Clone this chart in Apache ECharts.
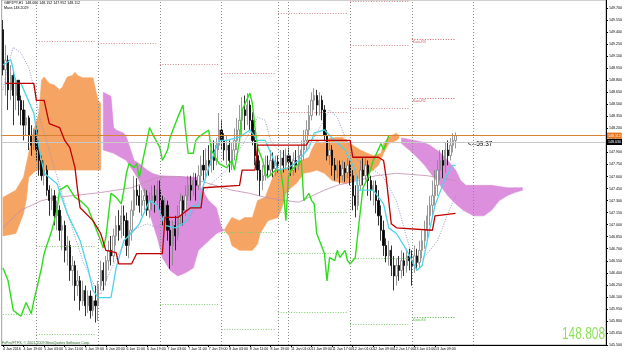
<!DOCTYPE html>
<html><head><meta charset="utf-8">
<script src="https://cdn.jsdelivr.net/npm/echarts@6/dist/echarts.min.js"></script>
<style>html,body{margin:0;padding:0;background:#fff}#c{width:625px;height:353px}</style>
</head><body><div id="c"></div>
<script>
// ---- data ----
const tickLabels = ["4 Jan 2016","4 Jan 19:00","5 Jan 03:00","5 Jan 11:00","5 Jan 19:00","6 Jan 03:00","6 Jan 11:00","6 Jan 19:00","7 Jan 03:00","7 Jan 11:00","7 Jan 19:00","8 Jan 03:00","8 Jan 11:00","8 Jan 19:00","11 Jan 01:00","11 Jan 09:00","11 Jan 17:00","12 Jan 01:00","12 Jan 09:00","12 Jan 17:00","13 Jan 01:00","13 Jan 09:00","13 Jan 17:00"];
const slotCount = 235;
// [open, close, low, high]
const candles = [
[149.43,148.93,148.86,149.55],[148.93,149.05,148.61,149.24],[149.05,148.68,148.43,149.11],[148.68,148.86,148.55,148.99],
[148.86,148.61,148.24,148.93],[148.61,148.80,148.43,148.83],[148.80,148.55,148.36,148.80],[148.55,148.43,148.24,148.61],
[148.43,148.24,148.05,148.55],[148.24,148.33,148.11,148.43],[148.33,148.11,147.93,148.36],[148.11,147.99,147.86,148.24],
[147.99,148.18,147.93,148.20],[148.18,147.93,147.80,148.24],[147.93,147.80,147.61,148.05],[147.80,147.61,147.55,147.86],
[147.61,147.68,147.49,147.80],[147.68,147.43,147.36,147.74],[147.43,147.30,147.11,147.49],[147.30,147.36,147.18,147.45],
[147.36,147.11,146.99,147.43],[147.11,147.18,146.93,147.30],[147.18,146.93,146.80,147.24],[146.93,146.99,146.68,147.11],
[146.99,146.68,146.53,147.05],[146.68,146.74,146.49,146.86],[146.74,146.43,146.30,146.80],[146.43,146.49,146.24,146.61],
[146.49,146.24,146.05,146.55],[146.24,146.30,146.11,146.43],[146.30,146.05,145.93,146.36],[146.05,146.18,145.99,146.30],
[146.18,145.99,145.86,146.24],[145.99,146.11,145.90,146.18],[146.11,145.93,145.83,146.18],[145.93,146.05,145.86,146.11],
[146.05,145.99,145.78,146.24],[145.99,146.24,145.80,146.30],[146.24,146.43,146.18,146.55],[146.43,146.30,146.18,146.53],
[146.30,146.55,146.24,146.61],[146.55,146.68,146.43,146.80],[146.68,146.61,146.49,146.86],[146.61,146.86,146.53,146.95],
[146.86,146.99,146.74,147.11],[146.99,146.93,146.80,147.18],[146.93,147.11,146.83,147.24],[147.11,147.05,146.86,147.24],
[147.05,146.74,146.61,147.15],[146.74,146.93,146.58,147.05],[146.93,147.18,146.80,147.30],[147.18,147.43,147.11,147.61],
[147.43,147.36,147.24,147.58],[147.36,147.24,147.15,147.49],[147.24,147.30,147.11,147.43],[147.30,147.36,147.18,147.45],
[147.36,147.18,147.11,147.43],[147.18,147.30,147.08,147.40],[147.30,147.36,147.18,147.49],[147.36,147.30,147.15,147.49],
[147.30,147.43,147.24,147.55],[147.43,147.30,147.18,147.55],[147.30,147.11,146.99,147.36],[147.11,147.24,146.93,147.33],
[147.24,146.93,146.80,147.30],[146.93,146.74,146.45,147.05],[146.74,146.99,146.49,147.05],[146.99,146.86,146.68,147.11],
[146.86,147.11,146.80,147.24],[147.11,147.30,146.99,147.39],[147.30,147.18,146.99,147.36],[147.18,147.36,147.11,147.49],
[147.36,147.49,147.30,147.61],[147.49,147.43,147.30,147.61],[147.43,147.55,147.36,147.65],[147.55,147.49,147.30,147.64],
[147.49,147.61,147.43,147.74],[147.61,147.74,147.49,147.86],[147.74,147.68,147.55,147.93],[147.68,147.80,147.58,147.95],
[147.80,147.74,147.61,147.99],[147.74,147.93,147.65,148.01],[147.93,147.80,147.68,148.05],[147.80,147.99,147.74,148.08],
[147.99,148.18,147.93,148.39],[148.18,148.05,147.93,148.30],[148.05,147.93,147.80,148.14],[147.93,147.99,147.74,148.11],
[147.99,147.80,147.65,148.05],[147.80,147.93,147.68,148.03],[147.93,148.05,147.80,148.20],[148.05,148.18,147.93,148.33],
[148.18,148.30,148.05,148.49],[148.30,148.43,148.11,148.59],[148.43,148.36,148.18,148.61],[148.36,148.49,148.24,148.64],
[148.49,148.30,148.18,148.55],[148.30,148.05,147.99,148.40],[148.05,147.86,147.74,148.18],[147.86,147.68,147.55,147.99],
[147.68,147.55,147.36,147.80],[147.55,147.61,147.43,147.74],[147.61,147.74,147.55,147.86],[147.74,147.68,147.58,147.86],
[147.68,147.80,147.61,147.93],[147.80,147.70,147.59,147.90],[147.70,147.78,147.61,147.86],[147.78,147.74,147.65,147.86],
[147.74,147.83,147.68,147.93],[147.83,147.74,147.65,147.93],[147.74,147.86,147.68,147.95],[147.86,147.78,147.68,147.96],
[147.78,147.68,147.61,147.86],[147.68,147.80,147.61,147.90],[147.80,147.74,147.65,147.93],[147.74,147.86,147.68,147.99],
[147.86,147.93,147.74,148.05],[147.93,148.05,147.80,148.18],[148.05,148.18,147.93,148.30],[148.18,148.36,148.11,148.49],
[148.36,148.55,148.30,148.65],[148.55,148.61,148.43,148.70],[148.61,148.49,148.36,148.68],[148.49,148.55,148.36,148.65],
[148.55,148.43,148.30,148.61],[148.43,148.11,148.05,148.49],[148.11,147.86,147.80,148.18],[147.86,147.93,147.74,148.05],
[147.93,147.74,147.61,147.99],[147.74,147.68,147.55,147.83],[147.68,147.74,147.58,147.80],[147.74,147.61,147.51,147.80],
[147.61,147.70,147.55,147.80],[147.70,147.65,147.53,147.78],[147.65,147.74,147.58,147.83],[147.74,147.61,147.49,147.80],
[147.61,147.36,147.18,147.68],[147.36,147.24,147.09,147.49],[147.24,147.49,147.18,147.61],[147.49,147.68,147.43,147.80],
[147.68,147.61,147.49,147.83],[147.61,147.74,147.55,147.84],[147.74,147.55,147.36,147.80],[147.55,147.43,147.30,147.61],
[147.43,147.49,147.24,147.55],[147.49,147.30,147.14,147.55],[147.30,147.11,146.99,147.43],[147.11,146.93,146.80,147.24],
[146.93,146.74,146.61,147.05],[146.74,146.61,146.53,146.83],[146.61,146.68,146.49,146.80],[146.68,146.49,146.36,146.74],
[146.49,146.36,146.18,146.61],[146.36,146.49,146.24,146.58],[146.49,146.43,146.30,146.61],[146.43,146.55,146.33,146.68],
[146.55,146.49,146.36,146.65],[146.49,146.61,146.40,146.70],[146.61,146.55,146.43,146.70],[146.55,146.49,146.24,146.68],
[146.49,146.61,146.40,146.74],[146.61,146.53,146.43,146.70],[146.53,146.68,146.45,146.80],[146.68,146.80,146.58,146.93],
[146.80,146.93,146.70,147.05],[146.93,147.11,146.80,147.24],[147.11,147.24,146.99,147.36],[147.24,147.36,147.11,147.55],
[147.36,147.49,147.24,147.68],[147.49,147.68,147.36,147.80],[147.68,147.80,147.55,147.93],[147.80,147.74,147.58,147.93],
[147.74,147.93,147.65,148.03],[147.93,147.86,147.74,148.05],[147.86,147.99,147.80,148.08],[147.99,148.05,147.90,148.14],
[148.05,148.11,147.95,148.15]
];
const tenkan = [[0,148.99],[2,149.03],[3,149.06],[4,148.93],[5,148.76],[7,148.76],[12,148.39],[14,147.96],[16,147.64],[21,147.51],[25,147.14],[30,146.80],[33,146.46],[35,146.18],[37,146.09],[42,146.09],[44,146.46],[47,146.80],[51,146.93],[53,147.01],[57,147.30],[60,147.24],[63,146.99],[67,146.96],[71,147.03],[74,147.24],[76,147.21],[77,147.39],[80,147.71],[84,148.05],[87,148.05],[92,148.09],[96,148.18],[99,148.05],[102,148.05],[107,147.68],[111,147.71],[115,147.80],[119,147.96],[121,148.14],[125,148.18],[129,148.05],[133,147.93],[137,147.68],[138,147.43],[144,147.43],[148,147.26],[150,146.96],[153,146.89],[157,146.68],[161,146.43],[163,146.49],[165,146.80],[168,147.24],[172,147.58],[175,147.74],[176,147.74]];
const kijun = [[1,148.76],[12,148.76],[13,148.55],[16,148.55],[18,148.26],[22,148.21],[24,148.05],[26,147.96],[28,147.71],[29,147.43],[30,147.21],[35,147.05],[38,146.89],[40,146.68],[44,146.65],[45,146.51],[50,146.51],[52,146.64],[62,146.64],[63,147.09],[68,147.09],[70,147.14],[73,147.21],[77,147.21],[78,147.46],[92,147.49],[93,147.68],[98,147.68],[99,147.99],[118,147.99],[119,148.05],[135,148.05],[136,147.84],[146,147.84],[148,147.80],[149,147.59],[151,147.01],[153,146.96],[167,146.93],[168,147.11],[176,147.14]];
const chikou = [[0,146.46],[2,146.30],[4,145.93],[7,145.86],[9,146.03],[11,145.89],[12,146.05],[15,146.46],[16,146.64],[19,146.93],[21,147.18],[22,147.43],[25,147.49],[28,147.34],[30,147.30],[33,147.21],[35,147.05],[38,146.80],[39,146.71],[40,146.84],[42,147.39],[44,147.34],[46,147.26],[47,147.43],[48,147.64],[49,147.76],[51,147.71],[52,147.76],[53,147.59],[56,148.05],[57,148.21],[58,148.14],[61,147.96],[62,147.80],[64,147.93],[65,148.09],[68,148.34],[70,148.49],[71,148.18],[72,147.89],[74,147.89],[75,148.05],[76,148.09],[80,148.18],[81,147.93],[84,147.76],[87,147.71],[89,147.80],[90,147.68],[92,148.05],[93,148.43],[96,148.64],[97,148.51],[98,148.21],[99,147.96],[101,147.80],[102,147.64],[103,147.59],[106,147.68],[108,147.68],[109,147.46],[110,147.05],[111,147.59],[112,147.68],[115,147.76],[116,147.80],[117,147.30],[119,147.39],[120,147.30],[121,147.26],[122,146.89],[125,146.64],[126,146.30],[127,146.59],[129,146.55],[130,146.68],[131,146.59],[133,146.68],[134,146.55],[135,146.51],[137,146.59],[138,146.89],[139,147.18],[140,147.46],[142,147.59],[144,147.80],[147,148.01],[148,147.93],[150,148.11]];
const dottedMA = [[0,148.68],[2,148.99],[4,149.21],[7,149.14],[10,148.96],[12,148.71],[14,148.36],[20,147.71],[26,147.05],[31,146.55],[36,146.21],[38,146.13],[40,146.30],[45,146.64],[50,146.93],[56,147.01],[60,146.96],[64,147.05],[69,147.01],[72,147.05],[76,147.30],[81,147.51],[87,147.68],[92,147.93],[97,148.21],[99,148.34],[102,148.30],[104,148.05],[107,147.93],[112,147.80],[117,147.89],[122,148.14],[127,148.43],[130,148.34],[134,148.01],[138,147.80],[143,147.71],[148,147.59],[153,147.30],[159,146.61],[161,146.49],[165,146.64],[169,146.80],[173,147.14],[176,147.36]];
const longMA = [[0,146.96],[7,147.18],[15,147.30],[21,147.34],[38,147.40],[50,147.46],[60,147.59],[69,147.60],[76,147.55],[89,147.43],[96,147.39],[102,147.34],[110,147.30],[115,147.28],[119,147.34],[125,147.43],[130,147.49],[138,147.55],[145,147.61],[153,147.64],[165,147.61],[176,147.55]];
const orange1Top = [[0,147.34],[5,147.43],[8,147.59],[10,147.89],[12,148.18],[14,148.39],[15,148.80],[16,148.84],[18,148.76],[20,148.74],[22,148.68],[23,148.71],[25,148.84],[27,148.86],[28,148.90],[29,148.86],[31,148.83],[35,148.83],[36,148.68],[37,148.55],[38,148.51]];
const orange1Bottom = [[0,146.86],[5,146.89],[8,147.14],[9,147.30],[10,147.59],[13,147.68],[37,147.68],[38,147.68]];
const violet1Top = [[39,148.65],[42,148.60],[43,148.21],[44,148.18],[47,148.14],[48,148.09],[51,147.80],[53,147.76],[56,147.68],[58,147.64],[61,147.61],[76,147.59],[77,147.46],[80,147.30],[83,147.21],[85,146.96],[86,146.93]];
const violet1Bottom = [[39,147.93],[43,147.89],[48,147.80],[53,147.55],[56,147.30],[57,147.14],[60,146.84],[62,146.59],[65,146.43],[68,146.36],[71,146.40],[74,146.46],[76,146.68],[80,146.80],[83,146.89],[86,146.93]];
const orange2Top = [[86,146.93],[89,147.09],[92,147.05],[94,147.09],[97,147.09],[99,147.30],[102,147.34],[104,147.51],[106,147.68],[111,147.71],[114,147.71],[116,147.80],[119,147.84],[120,147.93],[122,148.05],[124,148.01],[126,148.05],[127,148.08],[132,148.09],[135,148.01],[139,147.93],[141,147.90],[144,147.86],[147,147.89],[148,148.01],[150,148.09],[153,148.14],[154,148.11]];
const orange2Bottom = [[86,146.93],[88,146.86],[89,146.74],[92,146.68],[97,146.68],[99,146.76],[100,146.89],[103,147.05],[107,147.09],[109,147.26],[110,147.39],[112,147.46],[114,147.51],[117,147.64],[120,147.66],[122,147.68],[125,147.64],[128,147.55],[133,147.51],[137,147.55],[140,147.61],[144,147.68],[146,147.74],[148,147.89],[150,148.01],[153,148.05],[154,148.08]];
const violet2Top = [[155,148.08],[160,148.05],[163,148.03],[166,147.99],[170,147.90],[173,147.80],[176,147.68],[178,147.55],[180,147.49],[190,147.49],[196,147.46],[202,147.46]];
const violet2Bottom = [[155,148.01],[158,147.93],[161,147.84],[164,147.74],[167,147.61],[170,147.49],[173,147.36],[176,147.26],[179,147.18],[183,147.11],[187,147.11],[190,147.18],[193,147.30],[196,147.36],[199,147.40],[202,147.43]];
// [startIndex, endIndex, price]
const redLevels = [[13,36,149.28],[37,60,149.26],[61,84,149.00],[85,106,148.89],[107,134,149.64],[107,134,148.40],[135,158,149.78],[135,158,149.24],[135,158,148.45]];
const greenLevels = [[0,12,145.88],[13,36,146.73],[13,36,145.63],[61,84,146.01],[85,106,146.90],[85,106,145.70],[107,134,147.15],[107,134,146.64],[107,134,145.91],[135,158,146.58],[135,158,145.76]];
const redLabelled = [[159,176,149.31,"Kairi-R3"],[159,176,148.58,"Kairi-R2"]];
const greenLabelled = [[159,176,145.85,"Kairi-S3"]];
const daySeparators = [13,37,61,85,107,111,135,159,183];
const bidPrice = 148.112;
const askPrice = 148.030;
const bigPriceText = "148.808";
const timerText = "<--59:37";

// ---- chart ----
const categories = [];
for (let i = 0; i < slotCount; i++) categories.push(String(i));
const FONT = 'Liberation Sans';
const ORANGE = '#f5a463', VIOLET = '#db8fdc';
const regions = [
  {top: orange1Top, bottom: orange1Bottom, color: ORANGE},
  {top: violet1Top, bottom: violet1Bottom, color: VIOLET},
  {top: orange2Top, bottom: orange2Bottom, color: ORANGE},
  {top: violet2Top, bottom: violet2Bottom, color: VIOLET}
];
const dotted = [1, 1.6];
function levelLines(list, color) {
  return list.map(([a, b, v]) => [{coord: [a, v], lineStyle: {color, type: dotted, width: 1}}, {coord: [b, v]}]);
}
function labelledLines(list, color) {
  return list.map(([a, b, v, t]) => [{coord: [a, v], lineStyle: {color, type: dotted, width: 1},
    label: {show: true, formatter: t, position: 'insideStartBottom', distance: 1, fontSize: 3.6, color, fontFamily: FONT}}, {coord: [b, v]}]);
}
const chart = echarts.init(document.getElementById('c'), null, {renderer: 'canvas'});
chart.setOption({
  animation: false,
  backgroundColor: '#ffffff',
  textStyle: {fontFamily: FONT},
  grid: {left: 0, right: 12, top: 0, bottom: 8, show: true, borderColor: '#a0a0a0', borderWidth: 1},
  xAxis: {
    type: 'category', data: categories, boundaryGap: true,
    axisLine: {lineStyle: {color: '#000', width: 1}},
    axisTick: {show: true, length: 2, interval: (i) => i % 8 === 0 && i <= 176, alignWithLabel: true, lineStyle: {color: '#000'}},
    axisLabel: {interval: (i) => i % 8 === 0 && i <= 176, formatter: (v, i) => (i % 8 === 0 && i / 8 < tickLabels.length) ? tickLabels[i / 8] : '',
      fontSize: 3.6, color: '#000', align: 'left', margin: 2, fontFamily: FONT},
    splitLine: {show: false}
  },
  yAxis: {
    type: 'value', position: 'right', min: 145.5, max: 149.8, interval: 0.15,
    axisLine: {show: true, lineStyle: {color: '#000', width: 1}},
    axisTick: {show: true, length: 2, lineStyle: {color: '#000'}},
    axisLabel: {fontSize: 3.6, color: '#000', margin: 3, formatter: (v) => v.toFixed(3), showMaxLabel: false, fontFamily: FONT},
    splitLine: {show: false}
  },
  graphic: [
    {type: 'text', x: 4, y: 1, style: {text: 'GBPJPY,H1  148.060 148.152 147.952 148.112', fontSize: 3.6, fill: '#000', font: '3.6px ' + FONT}},
    {type: 'text', x: 4, y: 5.5, style: {text: 'Mass 148.2029', fontSize: 3.6, fill: '#000', font: '3.6px ' + FONT}},
    {type: 'text', x: 2, y: 341, style: {text: 'FxPro/FTFS, \u00a9 2001-2009 MetaQuotes Software Corp.', fontSize: 3.6, fill: '#2a6a2a', font: '3.6px ' + FONT}},
    {type: 'text', x: 468, y: 141, style: {text: timerText, fill: '#000', font: '6.5px ' + FONT}},
    {type: 'text', x: 562, y: 326, scaleX: 0.7, z: 100, style: {text: bigPriceText, fill: '#8ee05a', font: '17px ' + FONT}}
  ],
  series: [
    {
      type: 'custom', z: 1, silent: true, clip: true,
      data: regions.map((r) => [r.top[0][0], r.top[0][1]]),
      renderItem: function (params, api) {
        const r = regions[params.dataIndex];
        const pts = r.top.map((p) => api.coord(p)).concat(r.bottom.slice().reverse().map((p) => api.coord(p)));
        return {type: 'polygon', shape: {points: pts}, style: {fill: r.color, stroke: r.color, lineWidth: 0.6}};
      }
    },
    {
      type: 'line', z: 2, data: longMA, showSymbol: false, silent: true,
      lineStyle: {color: '#c28db0', width: 0.8},
      markLine: {silent: true, symbol: ['none', 'none'], label: {show: false},
        data: levelLines(redLevels, '#d98a8a').concat(levelLines(greenLevels, '#7fcf70'))
          .concat(labelledLines(redLabelled, '#d06060')).concat(labelledLines(greenLabelled, '#55b845'))}
    },
    {
      type: 'line', z: 2, data: dottedMA, showSymbol: false, silent: true,
      lineStyle: {color: '#8f8fc8', width: 0.9, type: [1, 1.5]}
    },
    {
      type: 'candlestick', z: 3, data: candles, barWidth: 1.8, silent: true,
      itemStyle: {color: '#ffffff', color0: '#000000', borderColor: '#808080', borderColor0: '#000000', borderWidth: 0.8},
      markLine: {silent: true, symbol: ['none', 'none'], label: {show: false},
        data: daySeparators.map((i) => ({xAxis: i, lineStyle: {color: '#8a8a8a', type: [1, 2], width: 1}}))
          .concat([
            {yAxis: askPrice, lineStyle: {color: '#c8c8c8', type: 'solid', width: 1},
              label: {show: true, position: 'end', distance: 1, formatter: askPrice.toFixed(3), backgroundColor: '#000', color: '#fff', fontSize: 3.6, padding: [1, 1]}},
            {yAxis: bidPrice, lineStyle: {color: '#d6822e', type: 'solid', width: 1},
              label: {show: true, position: 'end', distance: 1, formatter: bidPrice.toFixed(3), backgroundColor: '#e8741c', color: '#fff', fontSize: 3.6, padding: [1, 1]}}
          ])}
    },
    {type: 'line', z: 4, data: chikou, showSymbol: false, silent: true, lineStyle: {color: '#2fdc1c', width: 1.4}},
    {type: 'line', z: 4, data: tenkan, showSymbol: false, silent: true, lineStyle: {color: '#4fd3e6', width: 1.3}},
    {type: 'line', z: 5, data: kijun, showSymbol: false, silent: true, lineStyle: {color: '#c00000', width: 1.3}}
  ]
});
</script>
</body></html>
